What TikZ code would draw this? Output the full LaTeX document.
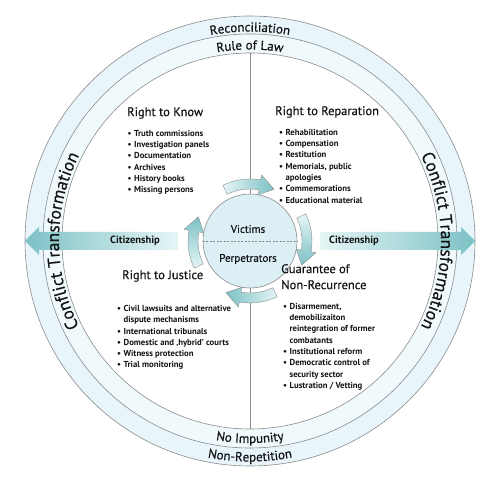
\documentclass[tikz,border=0pt]{standalone}
\usepackage{fontspec}
\setmainfont{PT Sans}
\newfontfamily\medfont{PT Sans}[FakeBold=0.35]
\usetikzlibrary{decorations.text,shadings}
\definecolor{ringline}{HTML}{8C8C8C}
\definecolor{bandA}{HTML}{E8F5FA}
\definecolor{bandB}{HTML}{F0F9FC}
\definecolor{core}{HTML}{DBEFF5}
\definecolor{tealdark}{HTML}{7CC1C5}
\definecolor{tealpale}{HTML}{E6F5F6}
\definecolor{txt}{HTML}{141414}
\newcommand{\ringfont}{\medfont\fontsize{13}{15}\selectfont\color{txt}}
\newcommand{\sidefont}{\medfont\fontsize{17.5}{20}\selectfont\color{txt}}
\newcommand{\bul}{\textbullet\hspace{2.5pt}}
\newcommand{\cont}{\hphantom{\textbullet\hspace{2.5pt}}}
% clockwise curved arrow around the centre: #1 start angle, #2 end of body, #3 tip angle, #4 shading angle
\newcommand{\cwarrow}[4]{%
  \shade[top color=tealpale, bottom color=tealdark, shading angle=#4, draw=ringline, line width=0.4pt]
    (#1:62pt) arc[start angle=#1, end angle=#2, radius=62pt]
    -- (#2:67pt) -- (#3:57pt) -- (#2:47pt) -- (#2:52pt)
    arc[start angle=#2, end angle=#1, radius=52pt] -- cycle;}
\begin{document}
\begin{tikzpicture}[x=1pt,y=1pt,
  heading/.style={inner sep=0pt, anchor=west, font=\medfont\fontsize{12.5}{16}\selectfont, text=txt},
  items/.style={inner sep=0pt, anchor=north west, align=left, font=\fontsize{8.7}{11.3}\selectfont\bfseries, text=txt},
  citizen/.style={inner sep=0pt, font=\fontsize{10.5}{12}\selectfont\bfseries, text=txt},
  core/.style={circle, draw=ringline, line width=0.6pt, fill=core, minimum size=94pt, inner sep=0pt},
  corelabel/.style={inner sep=0pt, font=\medfont\fontsize{11}{13}\selectfont, text=txt},
  ring/.style={draw=ringline, line width=0.6pt},
  ringtext/.style={decorate, decoration={text along path, text align=center, text={#1}}}]
\useasboundingbox (0,0) rectangle (500,481);
\coordinate (c) at (250,240);
% rings
\fill[bandA] (c) circle[radius=225pt];
\fill[bandB] (c) circle[radius=207pt];
\fill[white] (c) circle[radius=188pt];
\draw[ring] (c) circle[radius=225pt] (c) circle[radius=207pt] (c) circle[radius=188pt];
% citizenship arrows
\shade[left color=tealdark, right color=tealpale]
  (25,240) -- (39,254) -- (39,249) -- (178,249) -- (178,231) -- (39,231) -- (39,226) -- cycle;
\shade[left color=tealpale, right color=tealdark]
  (320,231) -- (461,231) -- (461,226) -- (475,240) -- (461,254) -- (461,249) -- (320,249) -- cycle;
\node[citizen] (citl) at (135,240) {Citizenship};
\node[citizen] (citr) at (354,240) {Citizenship};
% centre
\node[core] (vc) at (250,240) {};
\coordinate (itop) at (250,428);
\coordinate (ibot) at (250,52);
\draw[ringline, line width=0.8pt] (itop) -- (vc.north) (vc.south) -- (ibot);
\draw[ringline, line width=0.6pt, dash pattern=on 2pt off 1.5pt] (vc.west) -- (vc.east);
\node[corelabel] (vict) at (248,252) {Victims};
\node[corelabel] (perp) at (248,222) {Perpetrators};
\begin{scope}[shift={(250,240)}]
  \cwarrow{116}{80}{65}{90}
  \cwarrow{26}{-10}{-25}{0}
  \cwarrow{-64}{-100}{-115}{270}
  \cwarrow{206}{170}{155}{180}
  % ring texts
  \path[ringtext={|\ringfont|Reconciliation}] (180:209.5pt) arc[start angle=180, end angle=0, radius=209.5pt];
  \path[ringtext={|\ringfont|Rule of Law}] (180:191.5pt) arc[start angle=180, end angle=0, radius=191.5pt];
  \path[ringtext={|\ringfont|No Impunity}] (180:202pt) arc[start angle=180, end angle=360, radius=202pt];
  \path[ringtext={|\ringfont|Non-Repetition}] (180:220.5pt) arc[start angle=180, end angle=360, radius=220.5pt];
  \path[ringtext={|\sidefont|Conflict Transformation}] (240:191pt) arc[start angle=240, end angle=120, radius=191pt];
  \path[ringtext={|\sidefont|Conflict Transformation}] (60:191pt) arc[start angle=60, end angle=-60, radius=191pt];
\end{scope}
% quadrant texts
\node[heading] (knowhead) at (127,368) {Right to Know};
\node[items] (knowlist) at (127.5,351) {\bul Truth commissions\\ \bul Investigation panels\\ \bul Documentation\\ \bul Archives\\ \bul History books\\ \bul Missing persons};
\node[heading] (rephead) at (275,369) {Right to Reparation};
\node[items] (replist) at (279,352) {\bul Rehabilitation\\ \bul Compensation\\ \bul Restitution\\ \bul Memorials, public\\ \cont apologies\\ \bul Commemorations\\ \bul Educational material};
\node[heading] (justhead) at (122,205) {Right to Justice};
\node[items] (justlist) at (117,176) {\bul Civil lawsuits and alternative\\ \cont dispute mechanisms\\ \bul International tribunals\\ \bul Domestic and ‚hybrid’ courts\\ \bul Witness protection\\ \bul Trial monitoring};
\node[heading, anchor=north west, align=left] (guarhead) at (281,217) {Guarantee of\\ Non-Recurrence};
\node[items] (guarlist) at (283,178) {\bul Disarmement,\\ \cont demobilizaiton\\ \cont reintegration of former\\ \cont combatants\\ \bul Institutional reform\\ \bul Democratic control of\\ \cont security sector\\ \bul Lustration / Vetting};
\end{tikzpicture}
\end{document}
